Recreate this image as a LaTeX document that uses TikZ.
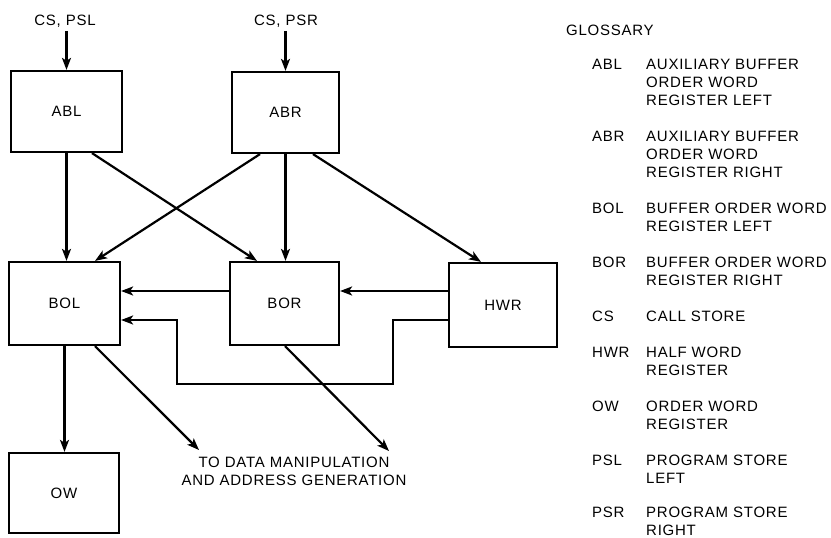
\documentclass[tikz,border=0pt]{standalone}
\usepackage{fontspec}
\setmainfont[LetterSpace=5]{Liberation Sans}
\usetikzlibrary{arrows.meta}
\begin{document}
\begin{tikzpicture}[x=1pt,y=-1pt,
  every node/.style={font=\fontsize{15}{18}\selectfont, inner sep=0pt},
  box/.style={draw, line width=2.2pt, minimum width=#1},
  arr/.style={line width=2.2pt, -{Stealth[length=12pt,width=9pt,inset=3pt]}},
  gl/.style={anchor=north west, align=left}]
\useasboundingbox (0,0) rectangle (831,538);
\fill[white] (0,0) rectangle (831,538);
% boxes
\node[box=111pt, minimum height=81pt] (abl) at (66.5,111.5) {ABL};
\node[box=107pt, minimum height=81pt] (abr) at (285.5,112.5) {ABR};
\node[box=111pt, minimum height=83pt] (bol) at (64.5,303.5) {BOL};
\node[box=109pt, minimum height=83pt] (bor) at (284.5,303.5) {BOR};
\node[box=108pt, minimum height=84pt] (hwr) at (503,305) {HWR};
\node[box=110pt, minimum height=80pt] (ow) at (64,493) {OW};
% inputs
\node[anchor=base] (csl) at (65,25.5) {CS, PSL};
\node[anchor=base] (csr) at (286,25.5) {CS, PSR};
\draw[arr] ([yshift=39pt]abl.north) -- (abl.north);
\draw[arr] ([yshift=40pt]abr.north) -- (abr.north);
% ABL, ABR outputs
\draw[arr] (abl.south) -- (abl.south |- bol.north);
\draw[arr] ([xshift=25.5pt]abl.south) -- ([xshift=-27.5pt]bor.north);
\draw[arr] ([xshift=-25.5pt]abr.south) -- ([xshift=30.5pt]bol.north);
\draw[arr] (abr.south) -- (abr.south |- bor.north);
\draw[arr] ([xshift=27.5pt]abr.south) -- ([xshift=-22pt]hwr.north);
% horizontal
\draw[arr] ([yshift=12.5pt]bor.west) coordinate (t1) -- (t1 -| bol.east);
\draw[arr] ([yshift=14pt]hwr.west) coordinate (t2) -- (t2 -| bor.east);
\coordinate (lr) at (393,384);
\coordinate (ll) at (177,384);
\draw[arr] ([yshift=-15pt]hwr.west) -| (lr) -- (ll) |- ([yshift=-16.5pt]bol.east);
% BOL outputs
\draw[arr] (bol.south) -- (bol.south |- ow.north);
\coordinate (o1) at (199,450);
\coordinate (o2) at (389,451);
\draw[arr] ([xshift=30.5pt]bol.south) -- (o1);
\draw[arr] ([xshift=0.5pt]bor.south) -- (o2);
\node[anchor=north, align=center] (dm) at (294,457.3) {TO DATA MANIPULATION\\AND ADDRESS GENERATION};
% glossary
\node[anchor=base west] (gt) at (566,35) {GLOSSARY};
\def\gy#1{\fpeval{64.5+18*#1-5.4}}
\node[gl] (k1) at (592,\gy{0}) {ABL};  \node[gl] (d1) at (646,\gy{0}) {AUXILIARY BUFFER\\ORDER WORD\\REGISTER LEFT};
\node[gl] (k2) at (592,\gy{4}) {ABR};  \node[gl] (d2) at (646,\gy{4}) {AUXILIARY BUFFER\\ORDER WORD\\REGISTER RIGHT};
\node[gl] (k3) at (592,\gy{8}) {BOL};  \node[gl] (d3) at (646,\gy{8}) {BUFFER ORDER WORD\\REGISTER LEFT};
\node[gl] (k4) at (592,\gy{11}) {BOR}; \node[gl] (d4) at (646,\gy{11}) {BUFFER ORDER WORD\\REGISTER RIGHT};
\node[gl] (k5) at (592,\gy{14}) {CS};  \node[gl] (d5) at (646,\gy{14}) {CALL STORE};
\node[gl] (k6) at (592,\gy{16}) {HWR}; \node[gl] (d6) at (646,\gy{16}) {HALF WORD\\REGISTER};
\node[gl] (k7) at (592,\gy{19}) {OW};  \node[gl] (d7) at (646,\gy{19}) {ORDER WORD\\REGISTER};
\node[gl] (k8) at (592,\gy{22}) {PSL}; \node[gl] (d8) at (646,\gy{22}) {PROGRAM STORE\\LEFT};
\node[gl] (k9) at (592,\gy{24.9}) {PSR}; \node[gl] (d9) at (646,\gy{24.9}) {PROGRAM STORE\\RIGHT};
\end{tikzpicture}
\end{document}
